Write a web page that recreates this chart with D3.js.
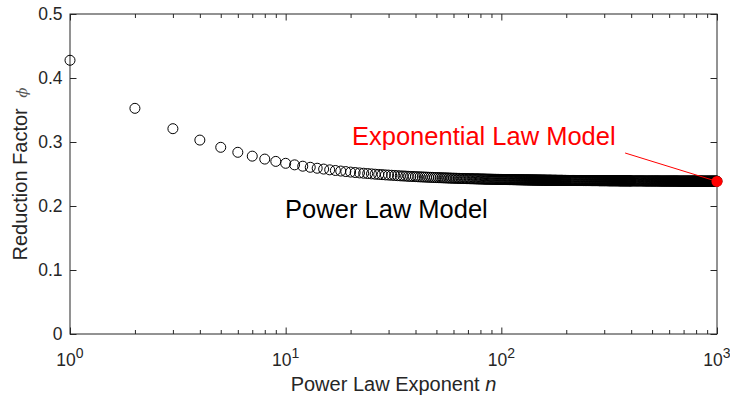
<!DOCTYPE html>
<html>
<head>
<meta charset="utf-8">
<script src="https://cdn.jsdelivr.net/npm/d3@7/dist/d3.min.js"></script>
<style>
  body { margin: 0; background: #fff; }
  svg { display: block; }
  text { font-family: "Liberation Sans", Arial, Helvetica, sans-serif; }
</style>
</head>
<body>
<svg id="chart" width="730" height="397"></svg>
<script>
// Sampled power-law exponents: every integer up to 200, then every 2nd to 400, then every 4th to 1000
const exponentN = [
  ...d3.range(1, 201),
  ...d3.range(202, 401, 2),
  ...d3.range(404, 1001, 4)
];

// Reduction factor phi for each sampled exponent (same order as exponentN)
const reductionFactor = [
  // n = 1 .. 50
  0.4277, 0.3526, 0.3208, 0.3030, 0.2917, 0.2839, 0.2779, 0.2733, 0.2697, 0.2667,
  0.2643, 0.2622, 0.2605, 0.2590, 0.2577, 0.2565, 0.2555, 0.2546, 0.2538, 0.2530,
  0.2523, 0.2517, 0.2512, 0.2507, 0.2502, 0.2497, 0.2493, 0.2490, 0.2486, 0.2483,
  0.2480, 0.2477, 0.2474, 0.2471, 0.2469, 0.2467, 0.2464, 0.2462, 0.2461, 0.2459,
  0.2457, 0.2455, 0.2454, 0.2452, 0.2451, 0.2449, 0.2448, 0.2447, 0.2445, 0.2444,
  // n = 51 .. 100
  0.2443, 0.2442, 0.2441, 0.2440, 0.2439, 0.2438, 0.2437, 0.2436, 0.2435, 0.2434,
  0.2434, 0.2433, 0.2432, 0.2431, 0.2431, 0.2430, 0.2429, 0.2429, 0.2428, 0.2427,
  0.2427, 0.2426, 0.2426, 0.2425, 0.2425, 0.2424, 0.2424, 0.2423, 0.2423, 0.2422,
  0.2422, 0.2421, 0.2421, 0.2420, 0.2420, 0.2419, 0.2419, 0.2419, 0.2418, 0.2418,
  0.2418, 0.2417, 0.2417, 0.2417, 0.2416, 0.2416, 0.2416, 0.2415, 0.2415, 0.2415,
  // n = 101 .. 200
  0.2414, 0.2414, 0.2414, 0.2414, 0.2413, 0.2413, 0.2413, 0.2413, 0.2412, 0.2412,
  0.2412, 0.2412, 0.2411, 0.2411, 0.2411, 0.2411, 0.2410, 0.2410, 0.2410, 0.2410,
  0.2410, 0.2409, 0.2409, 0.2409, 0.2409, 0.2409, 0.2408, 0.2408, 0.2408, 0.2408,
  0.2408, 0.2408, 0.2407, 0.2407, 0.2407, 0.2407, 0.2407, 0.2407, 0.2406, 0.2406,
  0.2406, 0.2406, 0.2406, 0.2406, 0.2406, 0.2405, 0.2405, 0.2405, 0.2405, 0.2405,
  0.2405, 0.2405, 0.2404, 0.2404, 0.2404, 0.2404, 0.2404, 0.2404, 0.2404, 0.2404,
  0.2403, 0.2403, 0.2403, 0.2403, 0.2403, 0.2403, 0.2403, 0.2403, 0.2403, 0.2403,
  0.2402, 0.2402, 0.2402, 0.2402, 0.2402, 0.2402, 0.2402, 0.2402, 0.2402, 0.2402,
  0.2401, 0.2401, 0.2401, 0.2401, 0.2401, 0.2401, 0.2401, 0.2401, 0.2401, 0.2401,
  0.2401, 0.2401, 0.2400, 0.2400, 0.2400, 0.2400, 0.2400, 0.2400, 0.2400, 0.2400,
  // n = 202 .. 400, step 2
  0.2400, 0.2400, 0.2399, 0.2399, 0.2399, 0.2399, 0.2399, 0.2399, 0.2399, 0.2399,
  0.2398, 0.2398, 0.2398, 0.2398, 0.2398, 0.2398, 0.2398, 0.2398, 0.2398, 0.2397,
  0.2397, 0.2397, 0.2397, 0.2397, 0.2397, 0.2397, 0.2397, 0.2397, 0.2397, 0.2396,
  0.2396, 0.2396, 0.2396, 0.2396, 0.2396, 0.2396, 0.2396, 0.2396, 0.2396, 0.2396,
  0.2396, 0.2395, 0.2395, 0.2395, 0.2395, 0.2395, 0.2395, 0.2395, 0.2395, 0.2395,
  0.2395, 0.2395, 0.2395, 0.2395, 0.2395, 0.2395, 0.2394, 0.2394, 0.2394, 0.2394,
  0.2394, 0.2394, 0.2394, 0.2394, 0.2394, 0.2394, 0.2394, 0.2394, 0.2394, 0.2394,
  0.2394, 0.2394, 0.2394, 0.2394, 0.2394, 0.2393, 0.2393, 0.2393, 0.2393, 0.2393,
  0.2393, 0.2393, 0.2393, 0.2393, 0.2393, 0.2393, 0.2393, 0.2393, 0.2393, 0.2393,
  0.2393, 0.2393, 0.2393, 0.2393, 0.2393, 0.2393, 0.2393, 0.2393, 0.2392, 0.2392,
  // n = 404 .. 1000, step 4
  0.2392, 0.2392, 0.2392, 0.2392, 0.2392, 0.2392, 0.2392, 0.2392, 0.2392, 0.2392,
  0.2392, 0.2392, 0.2392, 0.2392, 0.2391, 0.2391, 0.2391, 0.2391, 0.2391, 0.2391,
  0.2391, 0.2391, 0.2391, 0.2391, 0.2391, 0.2391, 0.2391, 0.2391, 0.2391, 0.2391,
  0.2391, 0.2391, 0.2391, 0.2391, 0.2391, 0.2390, 0.2390, 0.2390, 0.2390, 0.2390,
  0.2390, 0.2390, 0.2390, 0.2390, 0.2390, 0.2390, 0.2390, 0.2390, 0.2390, 0.2390,
  0.2390, 0.2390, 0.2390, 0.2390, 0.2390, 0.2390, 0.2390, 0.2390, 0.2390, 0.2390,
  0.2390, 0.2390, 0.2390, 0.2390, 0.2390, 0.2389, 0.2389, 0.2389, 0.2389, 0.2389,
  0.2389, 0.2389, 0.2389, 0.2389, 0.2389, 0.2389, 0.2389, 0.2389, 0.2389, 0.2389,
  0.2389, 0.2389, 0.2389, 0.2389, 0.2389, 0.2389, 0.2389, 0.2389, 0.2389, 0.2389,
  0.2389, 0.2389, 0.2389, 0.2389, 0.2389, 0.2389, 0.2389, 0.2389, 0.2389, 0.2389,
  0.2389, 0.2389, 0.2389, 0.2389, 0.2389, 0.2389, 0.2389, 0.2389, 0.2389, 0.2389,
  0.2389, 0.2389, 0.2389, 0.2388, 0.2388, 0.2388, 0.2388, 0.2388, 0.2388, 0.2388,
  0.2388, 0.2388, 0.2388, 0.2388, 0.2388, 0.2388, 0.2388, 0.2388, 0.2388, 0.2388,
  0.2388, 0.2388, 0.2388, 0.2388, 0.2388, 0.2388, 0.2388, 0.2388, 0.2388, 0.2388,
  0.2388, 0.2388, 0.2388, 0.2388, 0.2388, 0.2388, 0.2388, 0.2388, 0.2388, 0.2388
];

// Exponential-law model: single value, shown at the right end of the axis
const exponentialN = [1000];
const exponentialFactor = [0.2384];

// Axis ticks and labels
const yTicks = [0, 0.1, 0.2, 0.3, 0.4, 0.5];
const yTickLabels = ["0", "0.1", "0.2", "0.3", "0.4", "0.5"];
const xDecades = [1, 10, 100, 1000];
const xDecadeExponents = ["0", "1", "2", "3"];
const xAxisTitle = "Power Law Exponent ";
const xAxisVariable = "n";
const yAxisTitle = "Reduction Factor ";
const yAxisVariable = "\u03D5";
const powerLabel = "Power Law Model";
const exponentialLabel = "Exponential Law Model";

const axisColor = "#262626";
const svg = d3.select("#chart");
const box = { left: 70, right: 717, top: 14, bottom: 334 };

const x = d3.scaleLog().domain([1, 1000]).range([box.left, box.right]);
const y = d3.scaleLinear().domain([0, 0.5]).range([box.bottom, box.top]);

// Minor log ticks (2..9 within each decade)
const xMinor = x.ticks().filter(v => !xDecades.includes(v));

const axes = svg.append("g").attr("class", "axes");

function tickAxis(axisFn, scale, values, len, transform) {
  const g = axes.append("g")
    .attr("transform", transform)
    .call(axisFn(scale).tickValues(values).tickSize(len).tickFormat(""));
  g.select(".domain").remove();
  g.selectAll(".tick line").attr("stroke", axisColor).attr("stroke-width", 1);
  return g;
}

// Inward-pointing ticks on all four sides (box style)
tickAxis(d3.axisBottom, x, xDecades, -6.5, `translate(0,${box.bottom})`);
tickAxis(d3.axisBottom, x, xMinor, -4, `translate(0,${box.bottom})`);
tickAxis(d3.axisTop, x, xDecades, -6.5, `translate(0,${box.top})`);
tickAxis(d3.axisTop, x, xMinor, -4, `translate(0,${box.top})`);
tickAxis(d3.axisLeft, y, yTicks, -6.5, `translate(${box.left},0)`);
tickAxis(d3.axisRight, y, yTicks, -6.5, `translate(${box.right},0)`);

axes.append("rect")
  .attr("x", box.left).attr("y", box.top)
  .attr("width", box.right - box.left).attr("height", box.bottom - box.top)
  .attr("fill", "none").attr("stroke", axisColor).attr("stroke-width", 1);

// Y tick labels
axes.append("g").selectAll("text")
  .data(yTicks)
  .join("text")
  .attr("x", box.left - 7.5)
  .attr("y", d => y(d))
  .attr("dy", "0.35em")
  .attr("text-anchor", "end")
  .attr("font-size", 17.5)
  .attr("fill", axisColor)
  .text((d, i) => yTickLabels[i]);

// X tick labels as powers of ten
const xLab = axes.append("g").selectAll("text")
  .data(xDecades)
  .join("text")
  .attr("x", d => x(d))
  .attr("y", 365.5)
  .attr("text-anchor", "middle")
  .attr("font-size", 17.5)
  .attr("fill", axisColor);
xLab.append("tspan").text("10");
xLab.append("tspan")
  .attr("dy", -8)
  .attr("font-size", 14)
  .text((d, i) => xDecadeExponents[i]);

// Axis titles
const xt = svg.append("text")
  .attr("x", (box.left + box.right) / 2)
  .attr("y", 391)
  .attr("text-anchor", "middle")
  .attr("font-size", 20)
  .attr("fill", axisColor);
xt.append("tspan").text(xAxisTitle);
xt.append("tspan").attr("font-style", "italic").text(xAxisVariable);

const yt = svg.append("text")
  .attr("transform", `translate(26.5,${(box.top + box.bottom) / 2}) rotate(-90)`)
  .attr("text-anchor", "middle")
  .attr("font-size", 20)
  .attr("fill", axisColor);
yt.append("tspan").text(yAxisTitle);
yt.append("tspan")
  .attr("dx", 5)
  .attr("font-family", "'DejaVu Serif', serif")
  .attr("font-style", "italic")
  .attr("font-size", 15)
  .attr("fill", "#555")
  .text(yAxisVariable);

// Power-law model: open circles
svg.append("g")
  .selectAll("circle")
  .data(exponentN)
  .join("circle")
  .attr("cx", d => x(d))
  .attr("cy", (d, i) => y(reductionFactor[i]))
  .attr("r", 5)
  .attr("fill", "none")
  .attr("stroke", "#000")
  .attr("stroke-width", 1);

// Exponential-law model: filled red point with a pointer line from its label
const expX = x(exponentialN[0]);
const expY = y(exponentialFactor[0]);
svg.append("line")
  .attr("x1", x(375)).attr("y1", y(0.2828))
  .attr("x2", expX).attr("y2", expY)
  .attr("stroke", "#ff0000").attr("stroke-width", 1);
svg.append("g")
  .selectAll("circle")
  .data(exponentialN)
  .join("circle")
  .attr("cx", d => x(d))
  .attr("cy", (d, i) => y(exponentialFactor[i]))
  .attr("r", 5.5)
  .attr("fill", "#ff0000");

svg.append("text")
  .attr("x", x(20.3))
  .attr("y", y(0.2958))
  .attr("font-size", 25.5)
  .attr("fill", "#ff0000")
  .text(exponentialLabel);

svg.append("text")
  .attr("x", x(9.94))
  .attr("y", y(0.181))
  .attr("font-size", 25.5)
  .attr("fill", "#000")
  .text(powerLabel);
</script>
</body>
</html>
